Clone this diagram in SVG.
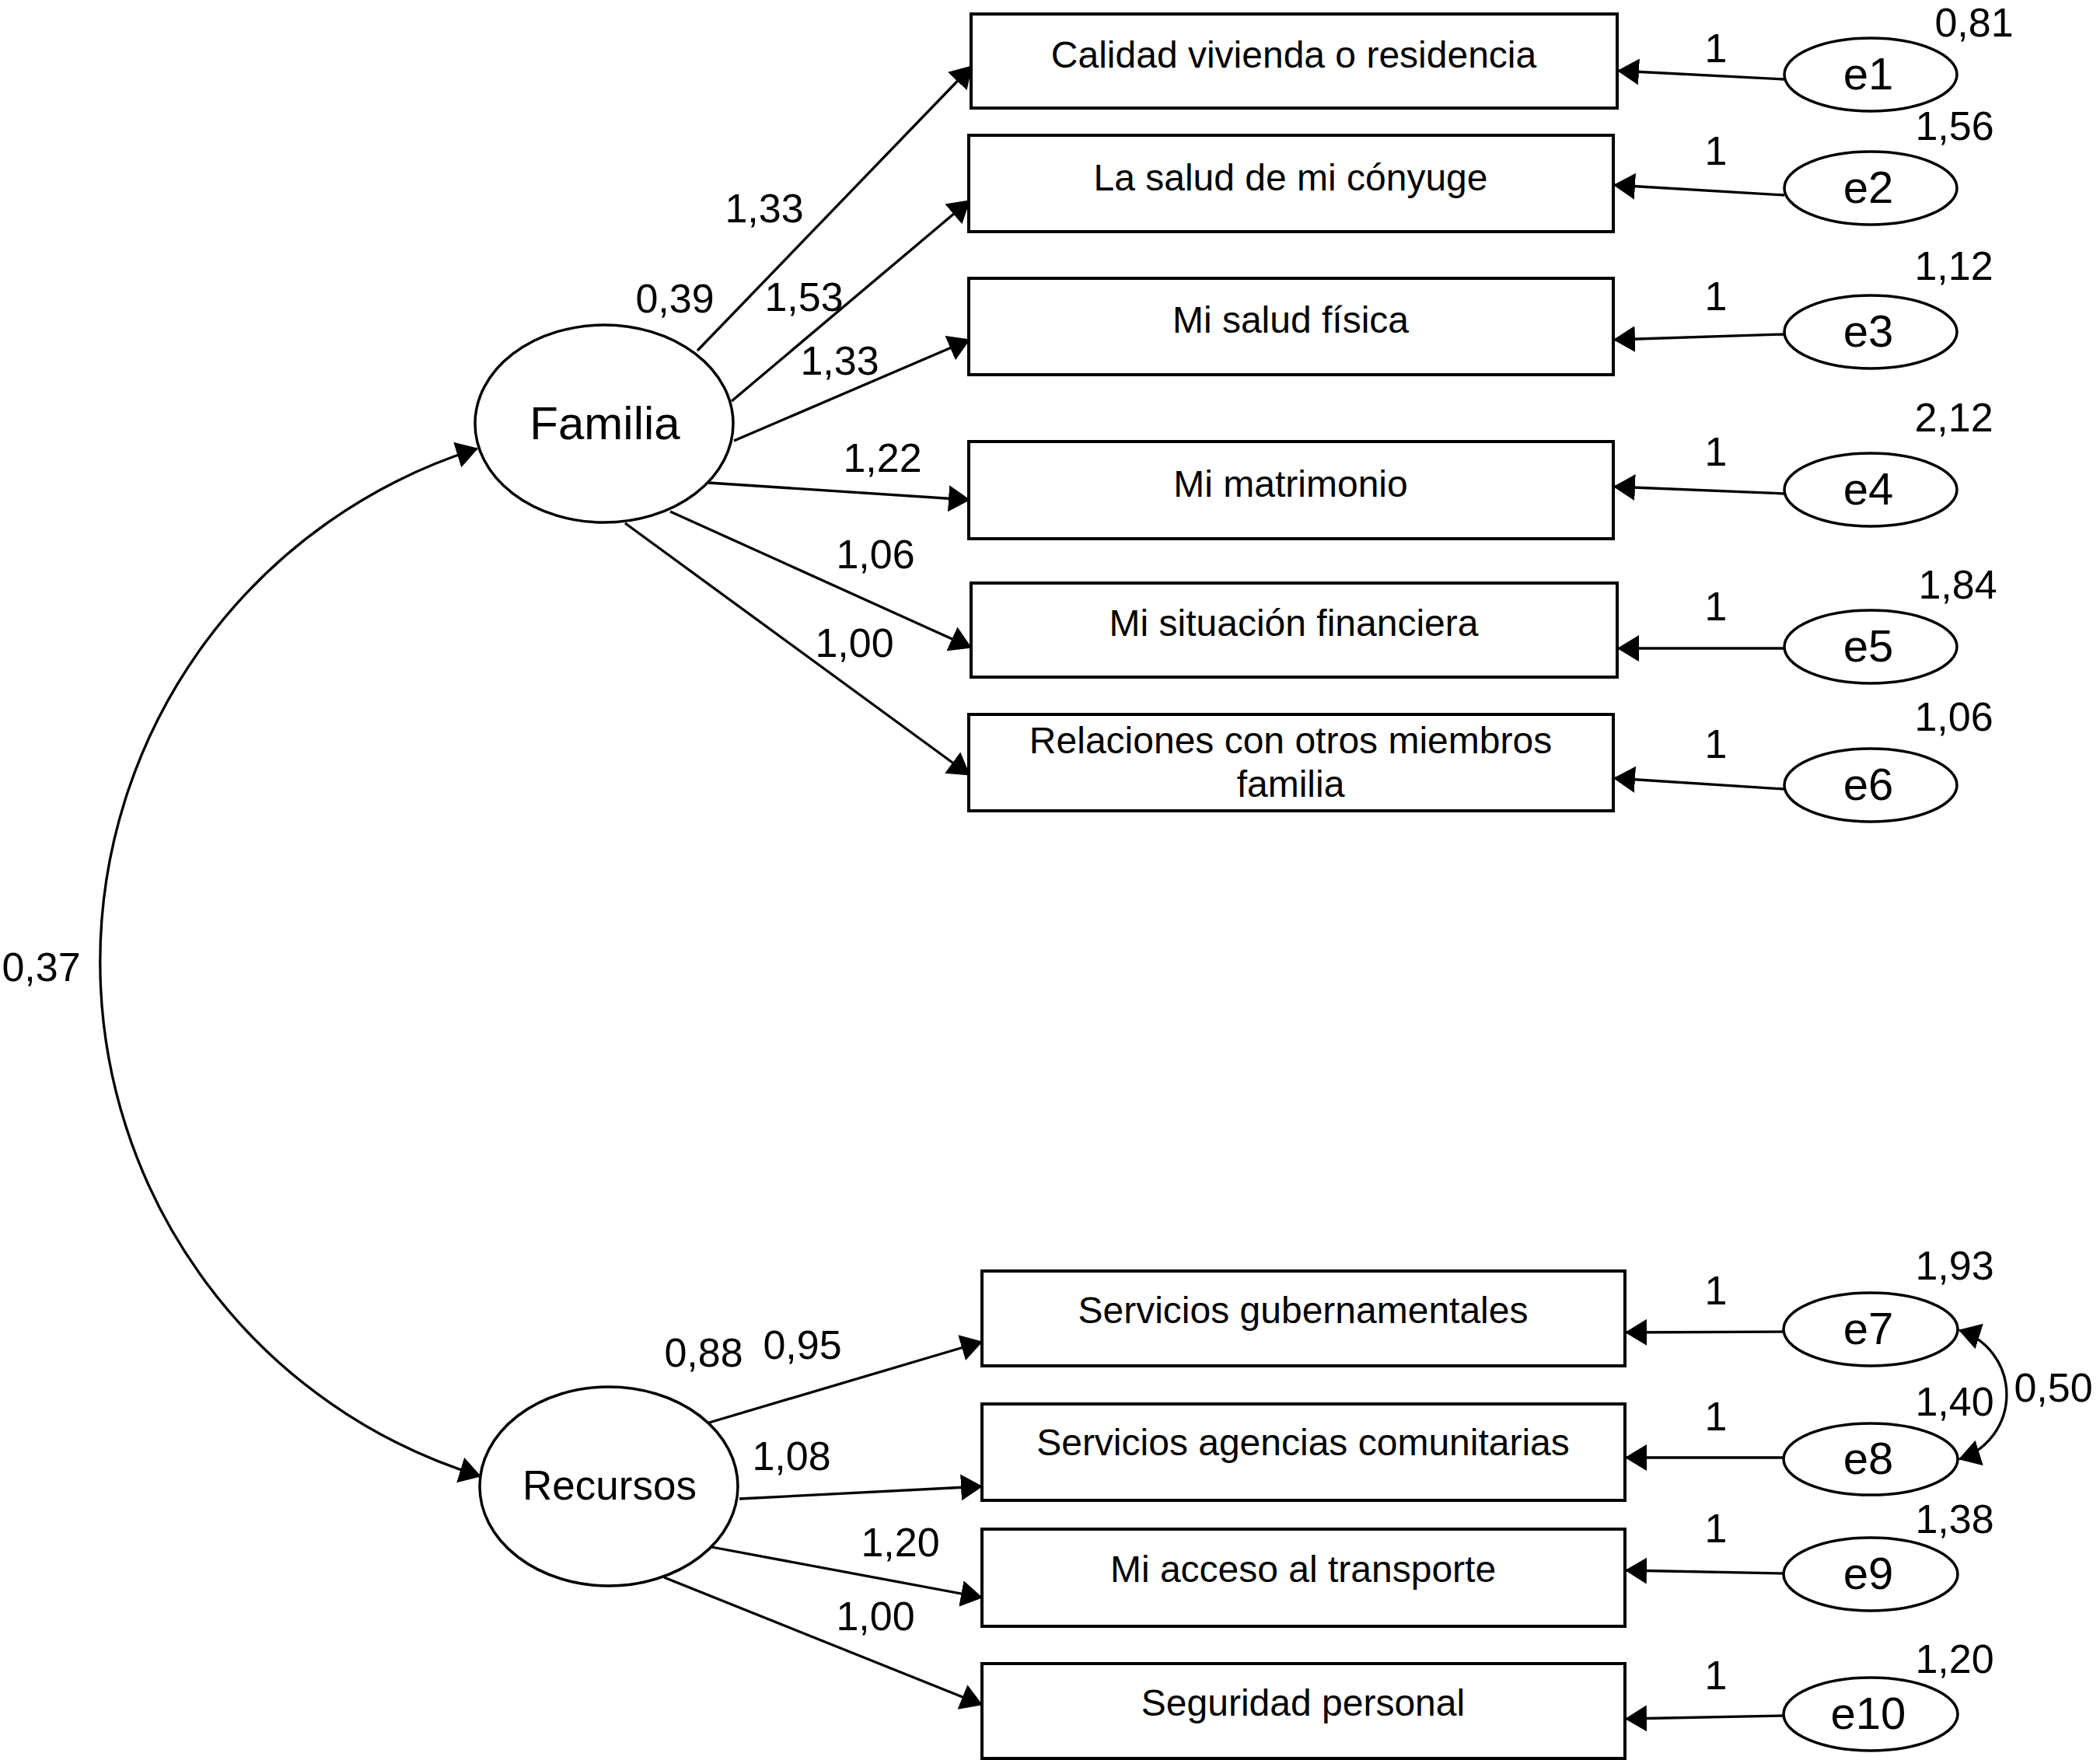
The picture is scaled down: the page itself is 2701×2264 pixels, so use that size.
<svg xmlns="http://www.w3.org/2000/svg" width="2701" height="2264" viewBox="0 0 2701 2264">
<defs>
<marker id="ah" viewBox="0 0 28 34" refX="27" refY="17" markerWidth="28" markerHeight="34" markerUnits="userSpaceOnUse" orient="auto-start-reverse">
<path d="M0,0 L28,17 L0,34 Z" fill="#000"/>
</marker>
<style>
text{font-family:"Liberation Sans",Arial,Helvetica,sans-serif;fill:#000;text-anchor:middle}
.box{fill:#fff;stroke:#000;stroke-width:4}
.ell{fill:#fff;stroke:#000;stroke-width:3.5}
.bt{font-size:48px}
.el{font-size:58px}
.num{font-size:52px}
.con line,.con path{stroke:#000;stroke-width:3.3;fill:none}
.arr{marker-end:url(#ah)}
.both{marker-start:url(#ah);marker-end:url(#ah)}
</style>
</defs>
<rect width="2701" height="2264" fill="#fff"/>

<g id="connectors" class="con">
<path class="both" d="M614,577 A692,692 0 0 0 618,1899"/>
<path class="both" d="M2520,1711 A87,87 0 0 1 2520,1877"/>
<line class="arr" x1="897" y1="451" x2="1250" y2="85"/>
<line class="arr" x1="941" y1="516" x2="1247" y2="258"/>
<line class="arr" x1="944" y1="567" x2="1247" y2="437"/>
<line class="arr" x1="911" y1="621" x2="1247" y2="643"/>
<line class="arr" x1="862" y1="658" x2="1249" y2="833"/>
<line class="arr" x1="804" y1="673" x2="1247" y2="997"/>
<line class="arr" x1="912" y1="1830" x2="1263" y2="1726"/>
<line class="arr" x1="951" y1="1928" x2="1263" y2="1912"/>
<line class="arr" x1="915" y1="1990" x2="1263" y2="2055"/>
<line class="arr" x1="854" y1="2029" x2="1263" y2="2193"/>
<line class="arr" x1="2295" y1="102" x2="2081" y2="91"/>
<line class="arr" x1="2295" y1="251" x2="2076" y2="238"/>
<line class="arr" x1="2295" y1="430" x2="2076" y2="437"/>
<line class="arr" x1="2295" y1="635" x2="2076" y2="626"/>
<line class="arr" x1="2295" y1="834" x2="2081" y2="834"/>
<line class="arr" x1="2295" y1="1015" x2="2076" y2="1001"/>
<line class="arr" x1="2295" y1="1713" x2="2091" y2="1714"/>
<line class="arr" x1="2295" y1="1875" x2="2091" y2="1875"/>
<line class="arr" x1="2295" y1="2024" x2="2091" y2="2020"/>
<line class="arr" x1="2295" y1="2207" x2="2091" y2="2211"/>
</g>

<g id="labels">
<text class="num" x="983" y="286">1,33</text>
<text class="num" x="868" y="402">0,39</text>
<text class="num" x="1034" y="400">1,53</text>
<text class="num" x="1080" y="482">1,33</text>
<text class="num" x="1135" y="607">1,22</text>
<text class="num" x="1126" y="731">1,06</text>
<text class="num" x="1099" y="845">1,00</text>
<text class="num" x="53" y="1262">0,37</text>
<text class="num" x="905" y="1758">0,88</text>
<text class="num" x="1032" y="1748">0,95</text>
<text class="num" x="1018" y="1891">1,08</text>
<text class="num" x="1158" y="2002">1,20</text>
<text class="num" x="1126" y="2097">1,00</text>
<text class="num" x="2207" y="80">1</text>
<text class="num" x="2207" y="212">1</text>
<text class="num" x="2207" y="399">1</text>
<text class="num" x="2207" y="599">1</text>
<text class="num" x="2207" y="798">1</text>
<text class="num" x="2207" y="975">1</text>
<text class="num" x="2207" y="1678">1</text>
<text class="num" x="2207" y="1840">1</text>
<text class="num" x="2207" y="1984">1</text>
<text class="num" x="2207" y="2173">1</text>
<text class="num" x="2539" y="47">0,81</text>
<text class="num" x="2514" y="180">1,56</text>
<text class="num" x="2513" y="360">1,12</text>
<text class="num" x="2513" y="555">2,12</text>
<text class="num" x="2518" y="770">1,84</text>
<text class="num" x="2513" y="940">1,06</text>
<text class="num" x="2514" y="1646">1,93</text>
<text class="num" x="2514" y="1821">1,40</text>
<text class="num" x="2641" y="1803">0,50</text>
<text class="num" x="2514" y="1972">1,38</text>
<text class="num" x="2514" y="2152">1,20</text>
</g>

<g id="Familia"><ellipse class="ell" cx="777" cy="545" rx="166" ry="127"/><text x="778" y="565" style="font-size:60px">Familia</text></g>
<g id="Recursos"><ellipse class="ell" cx="783" cy="1912" rx="166" ry="128"/><text x="784" y="1929" style="font-size:53px">Recursos</text></g>

<g id="box1"><rect class="box" x="1249" y="18" width="831" height="121"/><text class="bt" x="1664" y="87">Calidad vivienda o residencia</text></g>
<g id="box2"><rect class="box" x="1246" y="174" width="829" height="124"/><text class="bt" x="1660" y="245">La salud de mi cónyuge</text></g>
<g id="box3"><rect class="box" x="1246" y="358" width="829" height="124"/><text class="bt" x="1660" y="428">Mi salud física</text></g>
<g id="box4"><rect class="box" x="1246" y="568" width="829" height="125"/><text class="bt" x="1660" y="639">Mi matrimonio</text></g>
<g id="box5"><rect class="box" x="1249" y="750" width="831" height="121"/><text class="bt" x="1664" y="818">Mi situación financiera</text></g>
<g id="box6"><rect class="box" x="1246" y="919" width="829" height="124"/><text class="bt" x="1660" y="969">Relaciones con otros miembros</text><text class="bt" x="1660" y="1025">familia</text></g>
<g id="box7"><rect class="box" x="1263" y="1635" width="827" height="122"/><text class="bt" x="1676" y="1702">Servicios gubernamentales</text></g>
<g id="box8"><rect class="box" x="1263" y="1806" width="827" height="124"/><text class="bt" x="1676" y="1872">Servicios agencias comunitarias</text></g>
<g id="box9"><rect class="box" x="1263" y="1967" width="827" height="125"/><text class="bt" x="1676" y="2035">Mi acceso al transporte</text></g>
<g id="box10"><rect class="box" x="1263" y="2140" width="827" height="122"/><text class="bt" x="1676" y="2207">Seguridad personal</text></g>

<g id="e1"><ellipse class="ell" cx="2406" cy="96" rx="111" ry="47"/><text class="el" x="2403" y="115">e1</text></g>
<g id="e2"><ellipse class="ell" cx="2406" cy="242" rx="111" ry="47"/><text class="el" x="2403" y="261">e2</text></g>
<g id="e3"><ellipse class="ell" cx="2406" cy="427" rx="111" ry="47"/><text class="el" x="2403" y="446">e3</text></g>
<g id="e4"><ellipse class="ell" cx="2406" cy="630" rx="111" ry="47"/><text class="el" x="2403" y="649">e4</text></g>
<g id="e5"><ellipse class="ell" cx="2406" cy="832" rx="111" ry="47"/><text class="el" x="2403" y="851">e5</text></g>
<g id="e6"><ellipse class="ell" cx="2406" cy="1010" rx="111" ry="47"/><text class="el" x="2403" y="1029">e6</text></g>
<g id="e7"><ellipse class="ell" cx="2406" cy="1710" rx="112" ry="47"/><text class="el" x="2403" y="1729">e7</text></g>
<g id="e8"><ellipse class="ell" cx="2406" cy="1877" rx="112" ry="46"/><text class="el" x="2403" y="1896">e8</text></g>
<g id="e9"><ellipse class="ell" cx="2406" cy="2025" rx="112" ry="47"/><text class="el" x="2403" y="2044">e9</text></g>
<g id="e10"><ellipse class="ell" cx="2406" cy="2205" rx="112" ry="47"/><text class="el" x="2403" y="2224">e10</text></g>
</svg>
